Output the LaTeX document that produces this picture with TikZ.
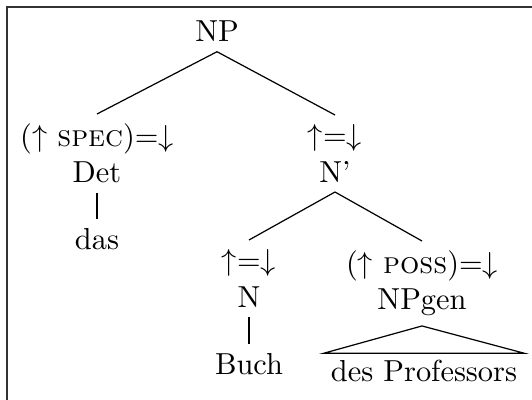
\documentclass[tikz,border=0pt]{standalone}
\usepackage{tikz}
\usepackage{amsmath}

\begin{document}
\begin{tikzpicture}[x=0.01156cm, y=-0.01156cm,
	cat/.style={align=center, inner ysep=3pt, anchor=north},
	word/.style={inner ysep=3pt, anchor=base}]
	\useasboundingbox (0,0) rectangle (532,400);
	%frame
	\draw[line width=0.7pt, black!80] (7,400) -- (7,7) -- (532,7);
	\node[word] (np) at (217,42) {NP};
	\node[cat] (det) at (97,114) {($\uparrow$ \textsc{spec})=$\downarrow$\\Det};
	\node[cat] (nbar) at (335,115) {$\uparrow$=$\downarrow$\\N'};
	\node[word] (das) at (97,250) {das};
	\node[cat] (n) at (249,240) {$\uparrow$=$\downarrow$\\N};
	\node[cat] (npgen) at (422,241) {($\uparrow$ \textsc{poss})=$\downarrow$\\NPgen};
	\node[word] (buch) at (249,375) {Buch};
	\node[word, inner sep=2.2pt] (prof) at (424,382) {des Professors};
	\draw (np.south) -- (det.north);
	\draw (np.south) -- (nbar.north);
	\draw (det.south) -- (das.north);
	\draw (nbar.south) -- (n.north);
	\draw (nbar.south) -- (npgen.north);
	\draw (n.south) -- (buch.north);
	\draw (npgen.south) -- (prof.north west) -- (prof.north east) -- cycle;
\end{tikzpicture}
\end{document}
